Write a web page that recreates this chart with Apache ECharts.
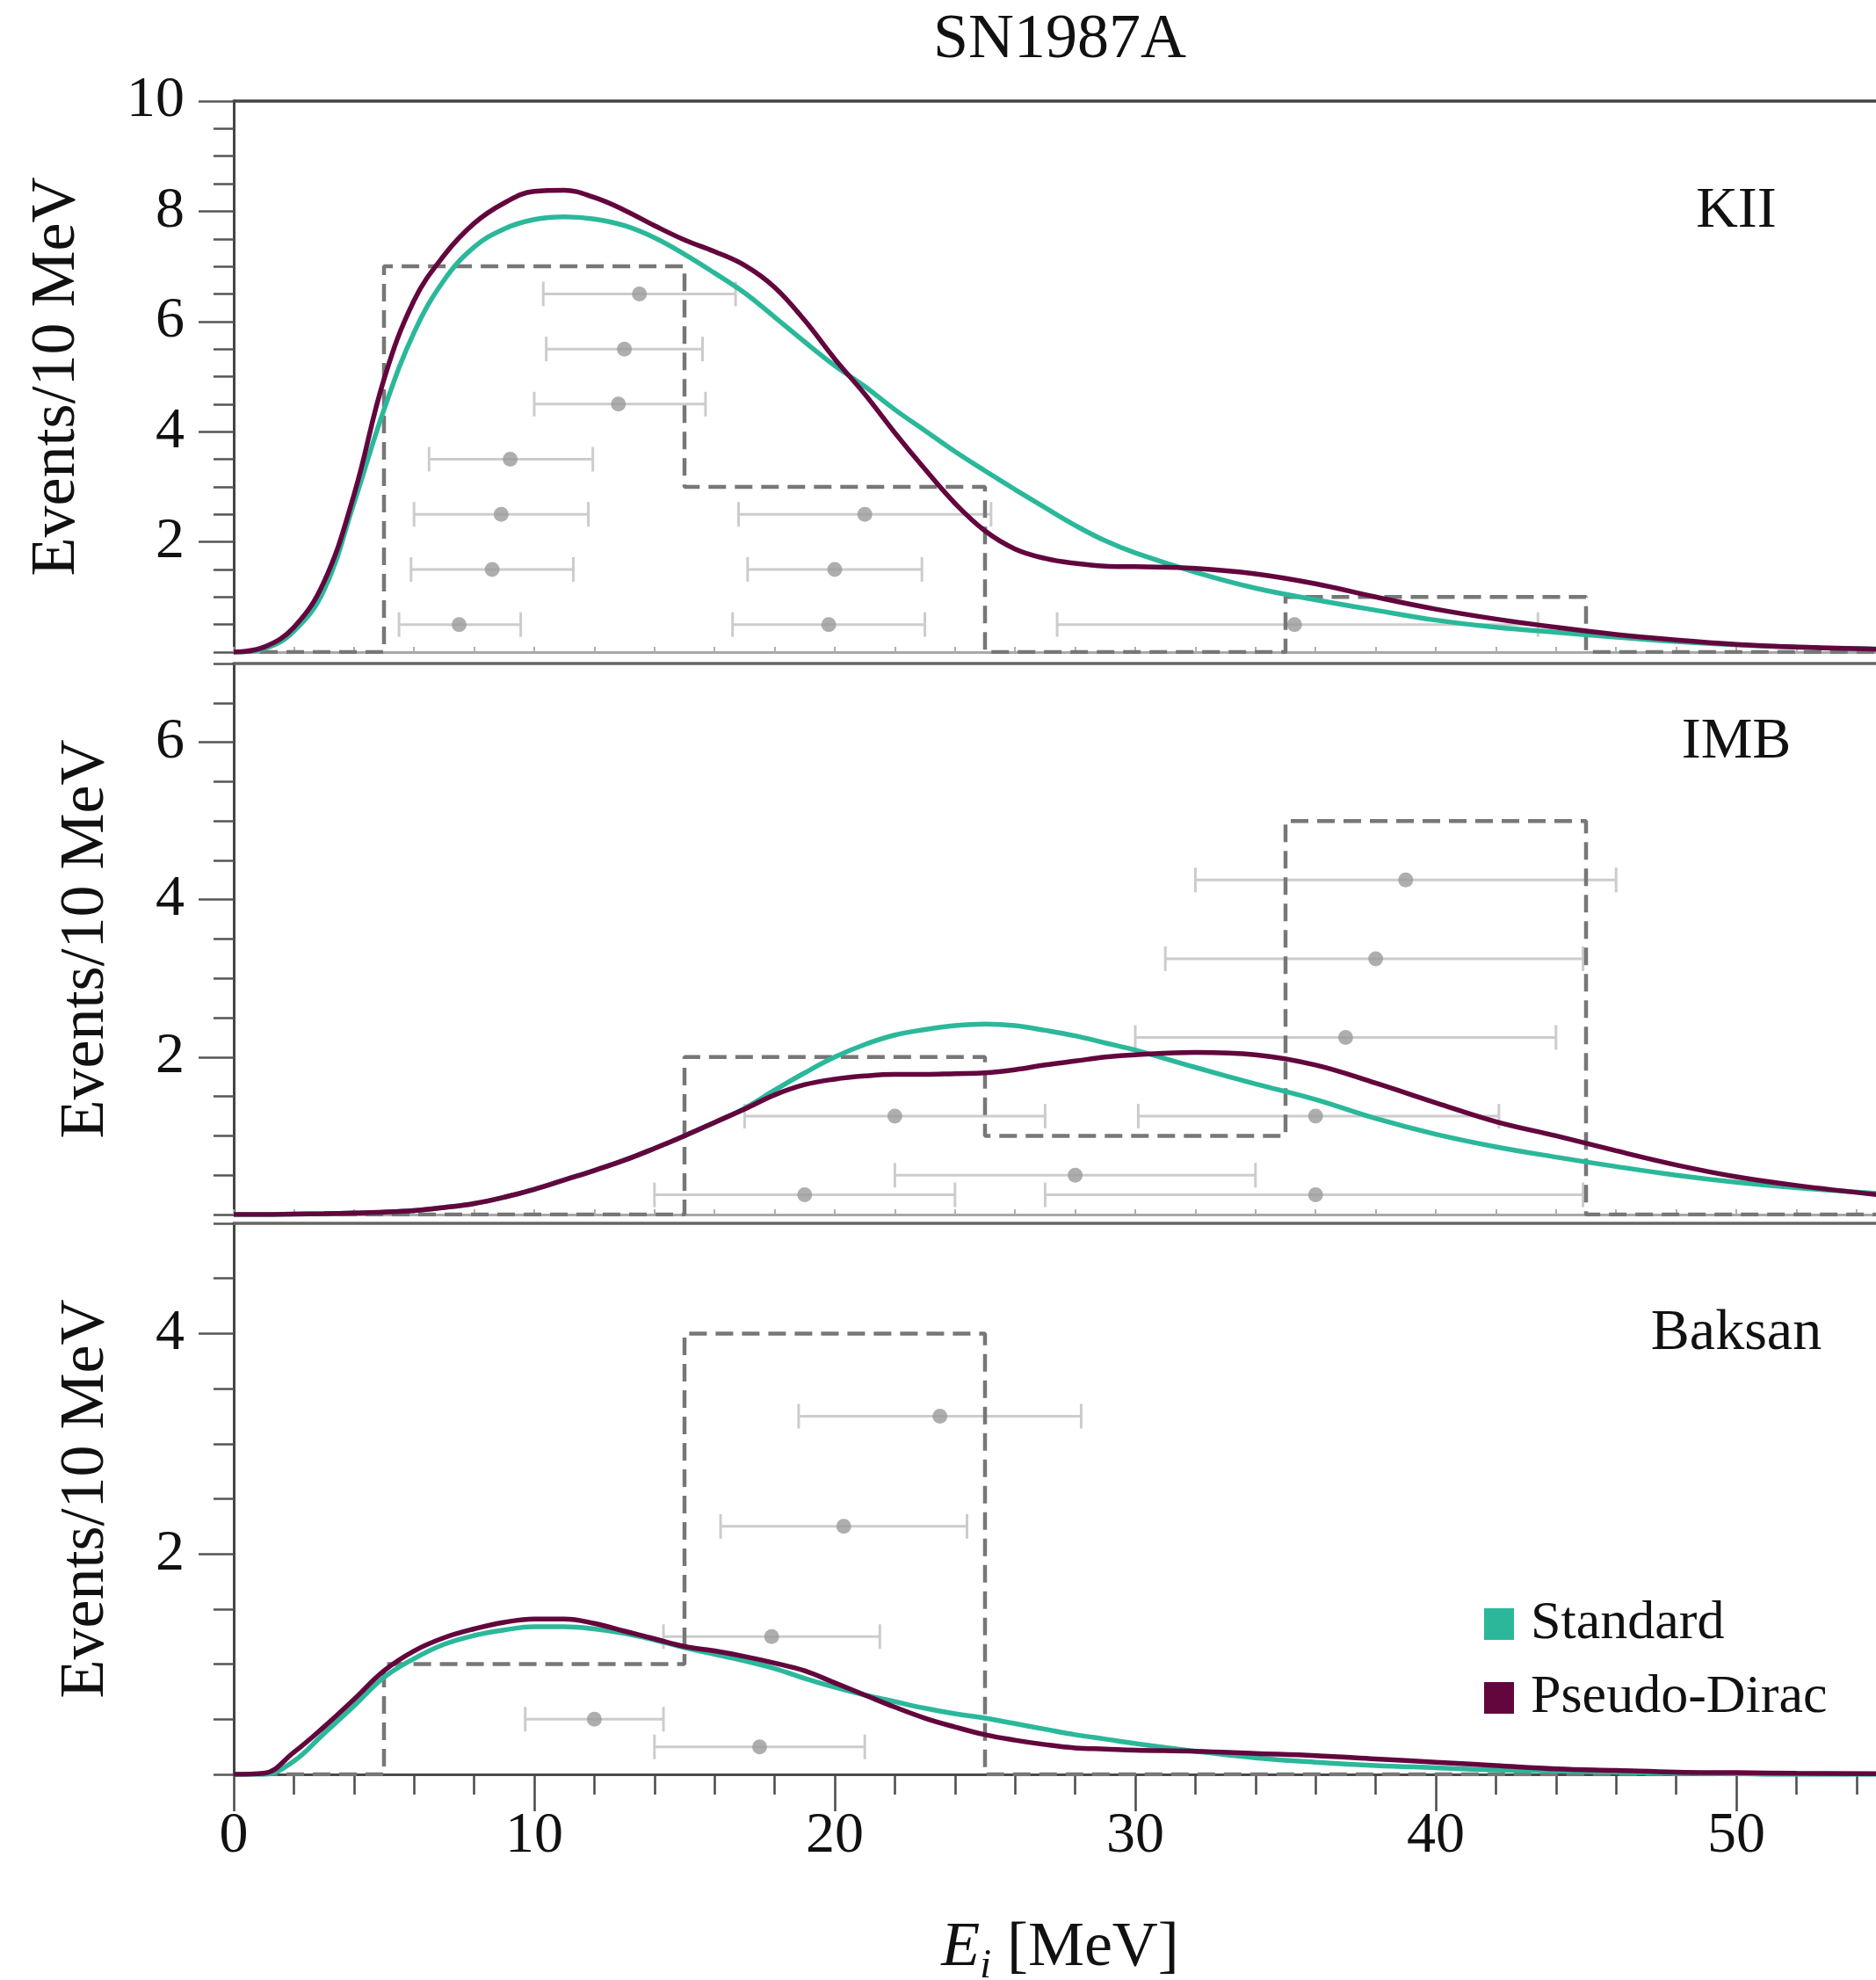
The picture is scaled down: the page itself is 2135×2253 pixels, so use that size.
<!DOCTYPE html>
<html>
<head>
<meta charset="utf-8">
<script src="https://cdn.jsdelivr.net/npm/echarts@6/dist/echarts.min.js"></script>
<style>
html,body{margin:0;padding:0;background:#ffffff;}
#chart{width:2135px;height:2253px;}
</style>
</head>
<body>
<div id="chart"></div>
<script>
// ---------------- data ----------------
const chartTitle = 'SN1987A';
const panelNames = ['KII', 'IMB', 'Baksan'];
const panelLabelPos = [[50, 8], [50, 6], [50, 4]];
const panelYMax = [10, 7, 5];
const panelYLabels = [[2, 4, 6, 8, 10], [2, 4, 6], [2, 4]];
const xTickLabels = [0, 10, 20, 30, 40, 50];
const seriesNames = ['Standard', 'Pseudo-Dirac'];

// energy grid (MeV) on which curves are read
const energy = [0,1,2,3,4,5,6,7,8,9,10,11,12,13,14,15,16,17,18,19,20,21,22,23,24,25,26,27,28,29,30,32,34,36,38,40,42,44,46,48,50,52,55];

const kiiStandard = [0,0.06,0.38,1.12,2.7,4.4,5.8,6.75,7.35,7.68,7.85,7.9,7.86,7.74,7.52,7.22,6.88,6.52,6.08,5.63,5.2,4.82,4.4,4.02,3.64,3.29,2.95,2.62,2.3,2.02,1.8,1.45,1.16,0.95,0.76,0.58,0.45,0.36,0.27,0.19,0.13,0.09,0.05];
const kiiPseudo   = [0,0.09,0.45,1.27,2.85,4.95,6.38,7.2,7.78,8.15,8.36,8.38,8.25,8.02,7.74,7.48,7.27,7.02,6.62,6.02,5.32,4.68,3.98,3.32,2.7,2.2,1.87,1.7,1.61,1.56,1.55,1.52,1.42,1.24,1.0,0.78,0.6,0.45,0.32,0.22,0.14,0.09,0.05];

const imbStandard = [0,0,0.005,0.01,0.02,0.03,0.05,0.09,0.14,0.22,0.32,0.44,0.56,0.69,0.84,1.0,1.17,1.35,1.58,1.8,2.0,2.16,2.28,2.35,2.4,2.42,2.4,2.34,2.27,2.18,2.09,1.87,1.66,1.46,1.22,1.02,0.86,0.73,0.61,0.5,0.41,0.34,0.26];
const imbPseudo   = [0,0,0.005,0.01,0.02,0.03,0.05,0.09,0.14,0.22,0.32,0.44,0.56,0.69,0.84,1.0,1.17,1.34,1.52,1.65,1.72,1.76,1.78,1.78,1.79,1.8,1.84,1.9,1.95,2.0,2.03,2.06,2.03,1.9,1.67,1.42,1.18,1.0,0.81,0.63,0.48,0.37,0.24];

const baksanStandard = [0,0,0.12,0.37,0.62,0.88,1.05,1.18,1.26,1.31,1.34,1.34,1.32,1.28,1.22,1.15,1.09,1.03,0.96,0.87,0.79,0.72,0.66,0.6,0.55,0.51,0.46,0.41,0.36,0.32,0.28,0.21,0.15,0.11,0.08,0.06,0.04,0.03,0.02,0.01,0.005,0,0];
const baksanPseudo   = [0,0.01,0.2,0.43,0.68,0.94,1.12,1.24,1.32,1.38,1.41,1.41,1.37,1.3,1.23,1.16,1.12,1.07,1.01,0.94,0.83,0.72,0.61,0.51,0.43,0.36,0.31,0.27,0.24,0.23,0.22,0.21,0.19,0.17,0.14,0.11,0.08,0.05,0.035,0.02,0.015,0.01,0.005];

// histogram of observed events (counts per bin between consecutive edges)
const binEdges = [0,5,15,25,35,45,55];
const kiiCounts = [0,7,3,0,1,0];
const imbCounts = [0,0,2,1,5,0];
const baksanCounts = [0,1,4,0,0,0];

// individual events: [energy, stacking level, lower, upper]
const kiiEvents = [
  [13.5,6.5,10.3,16.7],[13.0,5.5,10.4,15.6],[12.8,4.5,10.0,15.7],[9.2,3.5,6.5,11.95],
  [8.9,2.5,6.0,11.8],[8.6,1.5,5.9,11.3],[7.5,0.5,5.5,9.55],
  [21.0,2.5,16.8,25.2],[20.0,1.5,17.1,22.9],[19.8,0.5,16.6,23.0],[35.3,0.5,27.4,43.4]
];
const imbEvents = [
  [39.0,4.25,32.0,46.0],[38.0,3.25,31.0,44.9],[37.0,2.25,30.0,44.0],[36.0,1.25,30.1,42.1],
  [22.0,1.25,17.0,27.0],[28.0,0.5,22.0,34.0],[36.0,0.25,27.0,44.9],[19.0,0.25,14.0,24.0]
];
const baksanEvents = [
  [23.5,3.25,18.8,28.2],[20.3,2.25,16.2,24.4],[17.9,1.25,14.3,21.5],[12.0,0.5,9.7,14.3],[17.5,0.25,14.0,21.0]
];

// ---------------- build ----------------
const standardSets = [kiiStandard, imbStandard, baksanStandard];
const pseudoSets = [kiiPseudo, imbPseudo, baksanPseudo];
const countSets = [kiiCounts, imbCounts, baksanCounts];
const eventSets = [kiiEvents, imbEvents, baksanEvents];

const TEAL = '#2bb89a';
const PURPLE = '#63063e';
const FONT = "'Liberation Serif','DejaVu Serif',serif";
const TXT = '#111111';

const gridTops = [115, 755, 1392];
const gridH = 627;

function zip(xs, ys) { return xs.map((x, i) => [x, ys[i]]); }
function histPoints(edges, counts) {
  const pts = [[edges[0], 0]];
  counts.forEach((c, i) => { pts.push([edges[i], c]); pts.push([edges[i + 1], c]); });
  pts.push([edges[edges.length - 1], 0]);
  return pts;
}

const grids = [], xAxes = [], yAxes = [], series = [];

for (let p = 0; p < 3; p++) {
  const last = p === 2;
  grids.push({ left: 266, right: -12, top: gridTops[p], height: gridH, containLabel: false, outerBoundsMode: 'none' });

  // main bottom x axis
  xAxes.push({
    type: 'value', gridIndex: p, position: 'bottom', min: 0, max: 55,
    interval: last ? 10 : 2,
    axisLine: { show: true, onZero: false, lineStyle: { color: last ? '#4a4a4a' : '#a8a8a8', width: 3 } },
    axisTick: last
      ? { show: true, inside: false, length: 42, customValues: xTickLabels, lineStyle: { color: '#4a4a4a', width: 2.5 } }
      : { show: true, inside: true, length: 6, lineStyle: { color: '#b0b0b0', width: 2 } },
    axisLabel: last
      ? { show: true, customValues: xTickLabels, margin: 38, fontSize: 66, fontFamily: FONT, color: TXT }
      : { show: false },
    splitLine: { show: false },
    name: last ? '{e|E}{s|i}{m| [MeV]}' : '',
    nameLocation: 'middle', nameGap: 162, nameMoveOverlap: false,
    nameTextStyle: {
      rich: {
        e: { fontSize: 72, fontFamily: FONT, fontStyle: 'italic', color: TXT, lineHeight: 80, verticalAlign: 'top' },
        s: { fontSize: 46, fontFamily: FONT, fontStyle: 'italic', color: TXT, lineHeight: 46, verticalAlign: 'bottom' },
        m: { fontSize: 72, fontFamily: FONT, color: TXT, lineHeight: 80, verticalAlign: 'top' }
      }
    }
  });
  // top border
  xAxes.push({
    type: 'value', gridIndex: p, position: 'top', min: 0, max: 55,
    axisLine: { show: true, onZero: false, lineStyle: { color: p === 0 ? '#444444' : '#666666', width: 3.5 } },
    axisTick: { show: false }, axisLabel: { show: false }, splitLine: { show: false }
  });
  // minor x ticks (bottom panel only)
  xAxes.push({
    type: 'value', gridIndex: p, position: 'bottom', min: 0, max: 55, interval: 2, show: last,
    axisLine: { show: false },
    axisTick: { show: last, inside: false, length: 23, lineStyle: { color: '#4a4a4a', width: 2.5 } },
    axisLabel: { show: false }, splitLine: { show: false }
  });

  // main y axis
  yAxes.push({
    type: 'value', gridIndex: p, position: 'left', min: 0, max: panelYMax[p], interval: 2,
    axisLine: { show: true, onZero: false, lineStyle: { color: '#444444', width: 3 } },
    axisTick: { show: true, inside: false, length: 40, customValues: panelYLabels[p], lineStyle: { color: '#555555', width: 2.5 } },
    axisLabel: { show: true, customValues: panelYLabels[p], margin: 56, fontSize: 66, fontFamily: FONT, color: TXT },
    splitLine: { show: false },
    name: 'Events/10 MeV', nameLocation: 'middle', nameRotate: 90, nameMoveOverlap: false,
    nameGap: p === 0 ? 165 : 132,
    nameTextStyle: { fontSize: 72, fontFamily: FONT, color: TXT, lineHeight: 72 }
  });
  // minor y ticks
  yAxes.push({
    type: 'value', gridIndex: p, position: 'left', min: 0, max: panelYMax[p], interval: 0.5,
    axisLine: { show: false },
    axisTick: { show: true, inside: false, length: 23, lineStyle: { color: '#555555', width: 2.5 } },
    axisLabel: { show: false }, splitLine: { show: false }
  });

  const xi = 3 * p, yi = 2 * p;

  // event error bars
  series.push({
    type: 'custom', xAxisIndex: xi, yAxisIndex: yi, silent: true, z: 2,
    data: eventSets[p],
    encode: { x: [0, 2, 3], y: 1 },
    renderItem: function (params, api) {
      const y = api.value(1);
      const a = api.coord([api.value(2), y]);
      const b = api.coord([api.value(3), y]);
      const h = 14;
      const st = { stroke: '#cccccc', lineWidth: 3 };
      return {
        type: 'group',
        children: [
          { type: 'line', shape: { x1: a[0], y1: a[1], x2: b[0], y2: b[1] }, style: st },
          { type: 'line', shape: { x1: a[0], y1: a[1] - h, x2: a[0], y2: a[1] + h }, style: st },
          { type: 'line', shape: { x1: b[0], y1: b[1] - h, x2: b[0], y2: b[1] + h }, style: st }
        ]
      };
    }
  });
  // event dots
  series.push({
    type: 'scatter', xAxisIndex: xi, yAxisIndex: yi, silent: true, z: 3,
    symbol: 'circle', symbolSize: 17,
    itemStyle: { color: '#9a9a9a' },
    data: eventSets[p].map(e => [e[0], e[1]])
  });
  // histogram
  series.push({
    type: 'line', xAxisIndex: xi, yAxisIndex: yi, silent: true, z: 4,
    showSymbol: false, symbol: 'none',
    lineStyle: { color: '#777777', width: 4.5, type: [20, 10] },
    data: histPoints(binEdges, countSets[p])
  });
  // curves
  series.push({
    name: seriesNames[0], type: 'line', xAxisIndex: xi, yAxisIndex: yi, z: 5,
    smooth: 0.4, showSymbol: false, symbol: 'none',
    color: TEAL, itemStyle: { color: TEAL },
    lineStyle: { color: TEAL, width: 5.5 },
    data: zip(energy, standardSets[p])
  });
  series.push({
    name: seriesNames[1], type: 'line', xAxisIndex: xi, yAxisIndex: yi, z: 6,
    smooth: 0.4, showSymbol: false, symbol: 'none',
    color: PURPLE, itemStyle: { color: PURPLE },
    lineStyle: { color: PURPLE, width: 5.5 },
    data: zip(energy, pseudoSets[p])
  });
  // panel label (positioned through the axes)
  const labelText = panelNames[p];
  series.push({
    type: 'custom', xAxisIndex: xi, yAxisIndex: yi, silent: true, z: 7,
    data: [panelLabelPos[p]],
    renderItem: function (params, api) {
      const c = api.coord([api.value(0), api.value(1)]);
      return {
        type: 'text', x: c[0], y: c[1],
        style: { text: labelText, fill: TXT, font: "normal 66px 'Liberation Serif', 'DejaVu Serif', serif", align: 'center', verticalAlign: 'middle' }
      };
    }
  });
}

const chart = echarts.init(document.getElementById('chart'), null, { renderer: 'canvas' });
chart.setOption({
  animation: false,
  backgroundColor: '#ffffff',
  title: {
    text: chartTitle, left: 1206, top: 10, textAlign: 'center', padding: 0,
    textStyle: { fontSize: 72, fontWeight: 'normal', fontFamily: FONT, color: TXT, lineHeight: 72 }
  },
  legend: {
    data: seriesNames, orient: 'vertical', left: 1684, top: 1812,
    icon: 'rect', itemWidth: 34, itemHeight: 36, itemGap: 22,
    selectedMode: false,
    textStyle: { fontSize: 62, fontFamily: FONT, color: TXT, padding: [0, 0, 0, 14] }
  },
  grid: grids,
  xAxis: xAxes,
  yAxis: yAxes,
  series: series
});
</script>
</body>
</html>
